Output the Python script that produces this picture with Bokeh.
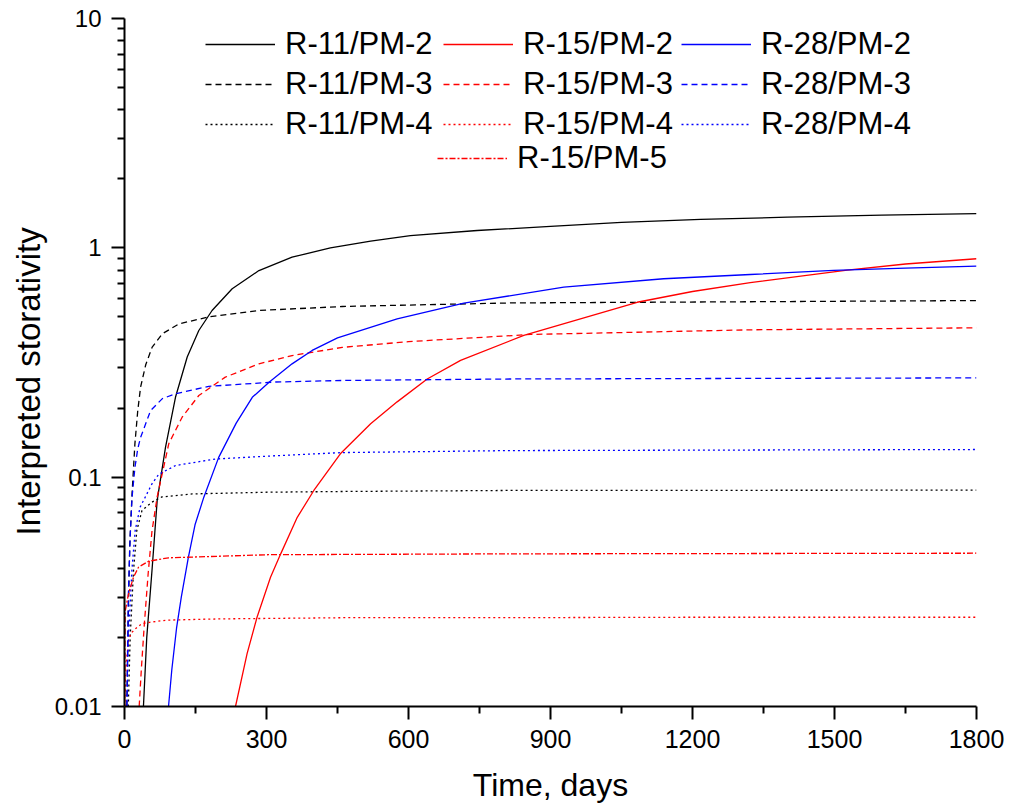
from bokeh.plotting import figure
from bokeh.models import Range1d, FixedTicker, Legend, LegendItem, Title
from bokeh.embed import file_html
from bokeh.resources import INLINE

# ---- data ----
x_11_2 = [40, 47, 58, 69, 86.6, 107.7, 132.5, 157, 185, 227.5, 284, 354, 435, 520, 604, 745, 900, 1050, 1217, 1400, 1600, 1800]
y_11_2 = [0.010, 0.020, 0.039, 0.079, 0.135, 0.223, 0.334, 0.436, 0.533, 0.663, 0.796, 0.91, 1.00, 1.07, 1.13, 1.19, 1.24, 1.29, 1.33, 1.36, 1.39, 1.41]

x_11_3 = [5, 8, 11, 16, 22, 28, 34, 45, 58.5, 80, 115, 178, 284, 460, 815, 1322, 1800]
y_11_3 = [0.010, 0.025, 0.05, 0.085, 0.14, 0.195, 0.247, 0.31, 0.369, 0.422, 0.466, 0.50, 0.533, 0.555, 0.575, 0.582, 0.589]

x_11_4 = [8, 12, 19, 26, 37, 58, 79, 143, 304, 460, 808, 1800]
y_11_4 = [0.010, 0.020, 0.039, 0.0585, 0.0716, 0.0778, 0.082, 0.0845, 0.086, 0.0866, 0.0875, 0.0878]

x_15_2 = [234.5, 259, 280, 308.5, 330, 365, 400, 456, 520, 576, 639.5, 710, 843.6, 1083, 1200, 1322, 1527, 1650, 1800]
y_15_2 = [0.010, 0.017, 0.0245, 0.0366, 0.0463, 0.0668, 0.0875, 0.1264, 0.171, 0.213, 0.268, 0.323, 0.415, 0.579, 0.645, 0.705, 0.80, 0.85, 0.896]

x_15_3 = [31, 36, 42, 50, 58, 69, 93.6, 122, 157, 213, 284, 354, 460, 600, 858, 1322, 1800]
y_15_3 = [0.010, 0.015, 0.023, 0.038, 0.058, 0.082, 0.14, 0.183, 0.227, 0.273, 0.312, 0.339, 0.368, 0.39, 0.419, 0.439, 0.448]

x_15_4 = [1, 2, 5, 9, 15, 25, 37, 60, 90, 200, 477, 815, 1200, 1800]
y_15_4 = [0.010, 0.0135, 0.0165, 0.0197, 0.021, 0.022, 0.023, 0.0234, 0.0238, 0.0241, 0.0244, 0.0244, 0.0245, 0.0245]

x_15_5 = [0.5, 1.4, 8.5, 19, 29.6, 50.7, 93, 200, 304, 800, 1800]
y_15_5 = [0.010, 0.026, 0.031, 0.0366, 0.0405, 0.043, 0.0445, 0.0452, 0.0459, 0.0463, 0.0466]

x_28_2 = [93, 100, 110, 120, 135, 149, 167.6, 199, 236, 270, 306, 354, 396.5, 450, 576, 717, 928, 1139, 1322, 1498, 1650, 1800]
y_28_2 = [0.010, 0.0145, 0.022, 0.030, 0.0448, 0.062, 0.0818, 0.122, 0.172, 0.223, 0.26, 0.312, 0.357, 0.405, 0.49, 0.574, 0.674, 0.733, 0.765, 0.797, 0.815, 0.832]

x_28_3 = [5, 8, 12, 16, 22, 28, 34, 55, 80, 108, 178, 319, 460, 815, 1800]
y_28_3 = [0.010, 0.03, 0.055, 0.082, 0.11, 0.133, 0.149, 0.195, 0.22, 0.231, 0.249, 0.26, 0.264, 0.268, 0.271]

x_28_4 = [5, 8.5, 15.5, 22.5, 33, 44, 58, 72.5, 108, 192, 319, 460, 815, 1800]
y_28_4 = [0.010, 0.020, 0.039, 0.0585, 0.074, 0.082, 0.0935, 0.103, 0.1124, 0.12, 0.124, 0.128, 0.1306, 0.132]

x_ticks = [0, 300, 600, 900, 1200, 1500, 1800]
x_minor = [150, 450, 750, 1050, 1350, 1650]
y_ticks = [0.01, 0.1, 1, 10]
y_minor = [m * d for d in (0.01, 0.1, 1) for m in range(2, 10)]

FONT = "Liberation Sans"

p = figure(width=1005, height=805, y_axis_type="log",
           x_range=Range1d(0, 1800), y_range=Range1d(0.01, 10),
           output_backend="svg", toolbar_location=None,
           min_border_left=124, min_border_right=29, min_border_top=18, min_border_bottom=99)
p.outline_line_color = None
p.xgrid.visible = False
p.ygrid.visible = False

series = [
    ("R-11/PM-2", x_11_2, y_11_2, "black", "solid"),
    ("R-11/PM-3", x_11_3, y_11_3, "black", "6 4"),
    ("R-11/PM-4", x_11_4, y_11_4, "black", "2 3"),
    ("R-15/PM-2", x_15_2, y_15_2, "red", "solid"),
    ("R-15/PM-3", x_15_3, y_15_3, "red", "6 4"),
    ("R-15/PM-4", x_15_4, y_15_4, "red", "2 3"),
    ("R-28/PM-2", x_28_2, y_28_2, "blue", "solid"),
    ("R-28/PM-3", x_28_3, y_28_3, "blue", "6 4"),
    ("R-28/PM-4", x_28_4, y_28_4, "blue", "2 3"),
    ("R-15/PM-5", x_15_5, y_15_5, "red", "6 2 2 2"),
]
rends = {}
for name, xs, ys, col, dash in series:
    rends[name] = p.line(xs, ys, line_color=col, line_width=1.3, line_dash=dash)

for ax in (p.xaxis[0], p.yaxis[0]):
    ax.axis_line_width = 2
    ax.major_tick_line_width = 2
    ax.minor_tick_line_width = 2
    ax.major_tick_in = 0
    ax.major_tick_out = 13
    ax.minor_tick_in = 0
    ax.minor_tick_out = 7
    ax.major_label_text_font = FONT
    ax.major_label_text_color = "black"
    ax.axis_label_text_font = FONT
    ax.axis_label_text_font_size = "32px"
    ax.axis_label_text_font_style = "normal"
    ax.axis_label_text_color = "black"

p.xaxis[0].major_label_text_font_size = "25px"
p.yaxis[0].major_label_text_font_size = "24px"
p.xaxis[0].ticker = FixedTicker(ticks=x_ticks, minor_ticks=x_minor)
p.yaxis[0].ticker = FixedTicker(ticks=y_ticks, minor_ticks=y_minor)
p.yaxis[0].major_label_overrides = {0.01: "0.01", 0.1: "0.1", 1: "1", 10: "10"}
p.xaxis[0].major_label_standoff = 10
p.yaxis[0].major_label_standoff = 10
p.xaxis[0].axis_label = "Time, days"
p.xaxis[0].axis_label_standoff = 16

ytitle = Title(text="Interpreted storativity", align="left", offset=171,
               text_font=FONT, text_font_size="33px", text_font_style="normal",
               text_color="black", standoff=9)
p.add_layout(ytitle, "left")

names9 = ["R-11/PM-2", "R-11/PM-3", "R-11/PM-4",
          "R-15/PM-2", "R-15/PM-3", "R-15/PM-4",
          "R-28/PM-2", "R-28/PM-3", "R-28/PM-4"]

def style(leg):
    leg.label_text_font = FONT
    leg.label_text_font_size = "31px"
    leg.label_text_color = "black"
    leg.glyph_width = 70
    leg.glyph_height = 20
    leg.label_standoff = 10
    leg.label_width = 154
    leg.spacing = 4
    leg.padding = 0
    leg.margin = 0
    leg.border_line_color = None
    leg.background_fill_alpha = 0

leg1 = Legend(items=[LegendItem(label=n, renderers=[rends[n]]) for n in names9],
              location=(81, 564), orientation="vertical", nrows=3)
style(leg1)
p.add_layout(leg1, "center")

leg2 = Legend(items=[LegendItem(label="R-15/PM-5", renderers=[rends["R-15/PM-5"]])],
              location=(313, 530), orientation="vertical")
style(leg2)
p.add_layout(leg2, "center")

open("out.html", "w").write(file_html(p, INLINE))
